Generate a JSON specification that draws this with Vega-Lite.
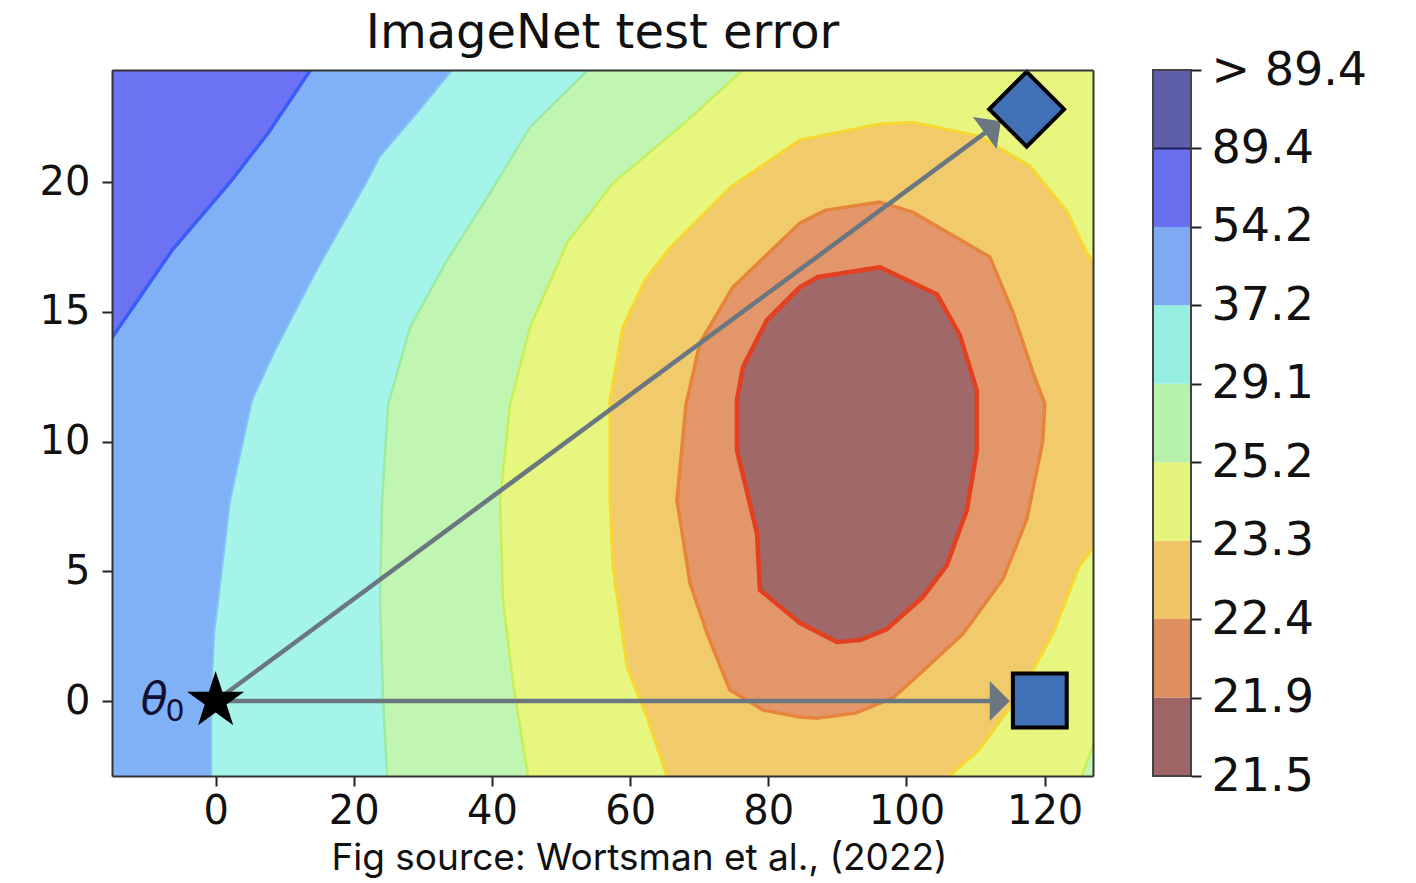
{
  "$schema": "https://vega.github.io/schema/vega-lite/v6.json",
  "background": "white",
  "padding": {"left": 39, "top": 9, "right": 5, "bottom": 3},
  "config": {"view": {"stroke": null}, "font": "DejaVu Sans"},
  "spacing": 59,
  "datasets": {
    "contours": [
      {"lvl": "L54", "i": 0, "x": 16.6, "y": 25.5},
      {"lvl": "L54", "i": 1, "x": 13.72, "y": 24.32},
      {"lvl": "L54", "i": 2, "x": 7.6, "y": 21.89},
      {"lvl": "L54", "i": 3, "x": 2.1, "y": 20.0},
      {"lvl": "L54", "i": 4, "x": -6.29, "y": 17.38},
      {"lvl": "L54", "i": 5, "x": -14.54, "y": 14.18},
      {"lvl": "L54", "i": 6, "x": -16.7, "y": 13.33},
      {"lvl": "L54", "i": 7, "x": -17, "y": 26},

      {"lvl": "L37", "i": 0, "x": 36.8, "y": 25.3},
      {"lvl": "L37", "i": 1, "x": 34.22, "y": 24.32},
      {"lvl": "L37", "i": 2, "x": 29.59, "y": 22.81},
      {"lvl": "L37", "i": 3, "x": 23.8, "y": 21.0},
      {"lvl": "L37", "i": 4, "x": 21.92, "y": 20.04},
      {"lvl": "L37", "i": 5, "x": 14.83, "y": 16.72},
      {"lvl": "L37", "i": 6, "x": 8.61, "y": 13.53},
      {"lvl": "L37", "i": 7, "x": 5.28, "y": 11.6},
      {"lvl": "L37", "i": 8, "x": 2.1, "y": 7.75},
      {"lvl": "L37", "i": 9, "x": 0.94, "y": 5.16},
      {"lvl": "L37", "i": 10, "x": -0.22, "y": 2.62},
      {"lvl": "L37", "i": 11, "x": -0.65, "y": 0},
      {"lvl": "L37", "i": 12, "x": -0.65, "y": -2.89},
      {"lvl": "L37", "i": 13, "x": -0.65, "y": -3.84},
      {"lvl": "L37", "i": 14, "x": 135, "y": -3.84},
      {"lvl": "L37", "i": 15, "x": 135, "y": 26},

      {"lvl": "L29", "i": 0, "x": 57.1, "y": 25.47},
      {"lvl": "L29", "i": 1, "x": 53.9, "y": 24.32},
      {"lvl": "L29", "i": 2, "x": 45.51, "y": 22.12},
      {"lvl": "L29", "i": 3, "x": 39.72, "y": 19.58},
      {"lvl": "L29", "i": 4, "x": 33.5, "y": 16.99},
      {"lvl": "L29", "i": 5, "x": 28.15, "y": 14.41},
      {"lvl": "L29", "i": 6, "x": 24.96, "y": 11.41},
      {"lvl": "L29", "i": 7, "x": 24.09, "y": 7.75},
      {"lvl": "L29", "i": 8, "x": 23.8, "y": 3.89},
      {"lvl": "L29", "i": 9, "x": 24.24, "y": 0.04},
      {"lvl": "L29", "i": 10, "x": 24.82, "y": -2.89},
      {"lvl": "L29", "i": 11, "x": 24.96, "y": -3.82},
      {"lvl": "L29", "i": 12, "x": 135, "y": -3.82},
      {"lvl": "L29", "i": 13, "x": 135, "y": 26},

      {"lvl": "L25", "i": 0, "x": 80.96, "y": 25.47},
      {"lvl": "L25", "i": 1, "x": 76.33, "y": 24.32},
      {"lvl": "L25", "i": 2, "x": 67.21, "y": 22.12},
      {"lvl": "L25", "i": 3, "x": 57.52, "y": 19.96},
      {"lvl": "L25", "i": 4, "x": 50.86, "y": 17.65},
      {"lvl": "L25", "i": 5, "x": 45.51, "y": 14.41},
      {"lvl": "L25", "i": 6, "x": 42.61, "y": 11.41},
      {"lvl": "L25", "i": 7, "x": 41.17, "y": 7.75},
      {"lvl": "L25", "i": 8, "x": 41.6, "y": 3.89},
      {"lvl": "L25", "i": 9, "x": 43.05, "y": 0.69},
      {"lvl": "L25", "i": 10, "x": 45.07, "y": -2.66},
      {"lvl": "L25", "i": 11, "x": 45.65, "y": -3.82},
      {"lvl": "L25", "i": 12, "x": 135, "y": -3.82},
      {"lvl": "L25", "i": 13, "x": 135, "y": 26},

      {"lvl": "LG", "i": 0, "x": 124.9, "y": -3.5},
      {"lvl": "LG", "i": 1, "x": 125.4, "y": -2.89},
      {"lvl": "LG", "i": 2, "x": 127, "y": -1.7},
      {"lvl": "LG", "i": 3, "x": 128, "y": -1.2},
      {"lvl": "LG", "i": 4, "x": 128, "y": -3.5},

      {"lvl": "L23", "i": 0, "x": 65.76, "y": -3.82},
      {"lvl": "L23", "i": 1, "x": 65.33, "y": -2.89},
      {"lvl": "L23", "i": 2, "x": 62.44, "y": -0.62},
      {"lvl": "L23", "i": 3, "x": 59.55, "y": 1.31},
      {"lvl": "L23", "i": 4, "x": 57.52, "y": 5.16},
      {"lvl": "L23", "i": 5, "x": 57.08, "y": 7.75},
      {"lvl": "L23", "i": 6, "x": 57.08, "y": 11.6},
      {"lvl": "L23", "i": 7, "x": 58.96, "y": 14.41},
      {"lvl": "L23", "i": 8, "x": 62.15, "y": 16.22},
      {"lvl": "L23", "i": 9, "x": 65.84, "y": 17.5},
      {"lvl": "L23", "i": 10, "x": 74.52, "y": 19.81},
      {"lvl": "L23", "i": 11, "x": 84.58, "y": 21.62},
      {"lvl": "L23", "i": 12, "x": 96.15, "y": 22.24},
      {"lvl": "L23", "i": 13, "x": 100.92, "y": 22.31},
      {"lvl": "L23", "i": 14, "x": 110.62, "y": 21.77},
      {"lvl": "L23", "i": 15, "x": 117.86, "y": 20.62},
      {"lvl": "L23", "i": 16, "x": 123.21, "y": 18.88},
      {"lvl": "L23", "i": 17, "x": 126.1, "y": 17.26},
      {"lvl": "L23", "i": 18, "x": 128, "y": 16.6},
      {"lvl": "L23", "i": 19, "x": 128, "y": 6.2},
      {"lvl": "L23", "i": 20, "x": 125.07, "y": 5.24},
      {"lvl": "L23", "i": 21, "x": 121.17, "y": 2.58},
      {"lvl": "L23", "i": 22, "x": 116.4, "y": 0.27},
      {"lvl": "L23", "i": 23, "x": 110.62, "y": -1.85},
      {"lvl": "L23", "i": 24, "x": 106.28, "y": -2.89},
      {"lvl": "L23", "i": 25, "x": 105.6, "y": -3.82},

      {"lvl": "L22", "i": 0, "x": 88.34, "y": 18.92},
      {"lvl": "L22", "i": 1, "x": 96.16, "y": 19.23},
      {"lvl": "L22", "i": 2, "x": 100.93, "y": 18.84},
      {"lvl": "L22", "i": 3, "x": 112.07, "y": 17.11},
      {"lvl": "L22", "i": 4, "x": 115.4, "y": 14.99},
      {"lvl": "L22", "i": 5, "x": 118.29, "y": 12.68},
      {"lvl": "L22", "i": 6, "x": 120.02, "y": 11.45},
      {"lvl": "L22", "i": 7, "x": 119.73, "y": 10.02},
      {"lvl": "L22", "i": 8, "x": 117.42, "y": 7.01},
      {"lvl": "L22", "i": 9, "x": 113.95, "y": 4.7},
      {"lvl": "L22", "i": 10, "x": 108.16, "y": 2.58},
      {"lvl": "L22", "i": 11, "x": 102.37, "y": 1.16},
      {"lvl": "L22", "i": 12, "x": 98.03, "y": 0.12},
      {"lvl": "L22", "i": 13, "x": 92.68, "y": -0.46},
      {"lvl": "L22", "i": 14, "x": 87.18, "y": -0.66},
      {"lvl": "L22", "i": 15, "x": 84.58, "y": -0.62},
      {"lvl": "L22", "i": 16, "x": 79.23, "y": -0.35},
      {"lvl": "L22", "i": 17, "x": 74.45, "y": 0.42},
      {"lvl": "L22", "i": 18, "x": 71.12, "y": 2.62},
      {"lvl": "L22", "i": 19, "x": 68.66, "y": 4.55},
      {"lvl": "L22", "i": 20, "x": 66.78, "y": 7.75},
      {"lvl": "L22", "i": 21, "x": 68.08, "y": 11.41},
      {"lvl": "L22", "i": 22, "x": 70.11, "y": 13.8},
      {"lvl": "L22", "i": 23, "x": 74.88, "y": 15.95},
      {"lvl": "L22", "i": 24, "x": 84.58, "y": 18.42},

      {"lvl": "L21", "i": 0, "x": 87.18, "y": 16.34},
      {"lvl": "L21", "i": 1, "x": 96.15, "y": 16.72},
      {"lvl": "L21", "i": 2, "x": 104.4, "y": 15.68},
      {"lvl": "L21", "i": 3, "x": 107.73, "y": 14.1},
      {"lvl": "L21", "i": 4, "x": 110.19, "y": 11.95},
      {"lvl": "L21", "i": 5, "x": 110.19, "y": 9.67},
      {"lvl": "L21", "i": 6, "x": 108.74, "y": 7.36},
      {"lvl": "L21", "i": 7, "x": 105.85, "y": 5.24},
      {"lvl": "L21", "i": 8, "x": 102.37, "y": 4.01},
      {"lvl": "L21", "i": 9, "x": 97.17, "y": 2.77},
      {"lvl": "L21", "i": 10, "x": 93.26, "y": 2.35},
      {"lvl": "L21", "i": 11, "x": 89.93, "y": 2.27},
      {"lvl": "L21", "i": 12, "x": 84.58, "y": 3.01},
      {"lvl": "L21", "i": 13, "x": 78.79, "y": 4.28},
      {"lvl": "L21", "i": 14, "x": 78.36, "y": 6.47},
      {"lvl": "L21", "i": 15, "x": 75.46, "y": 9.67},
      {"lvl": "L21", "i": 16, "x": 75.46, "y": 11.6},
      {"lvl": "L21", "i": 17, "x": 76.33, "y": 12.87},
      {"lvl": "L21", "i": 18, "x": 79.79, "y": 14.68},
      {"lvl": "L21", "i": 19, "x": 84.58, "y": 15.95}
    ],
    "arrows": [
      {"arrow": "diag", "i": 0, "x": 0, "y": 0},
      {"arrow": "diag", "i": 1, "x": 112.5, "y": 22.12},
      {"arrow": "horiz", "i": 0, "x": 0, "y": 0},
      {"arrow": "horiz", "i": 1, "x": 113.5, "y": 0}
    ],
    "markers": [
      {"kind": "start", "label": "θ", "sub": "0", "x": 0, "y": 0},
      {"kind": "diamond", "label": "", "sub": "", "x": 117.4, "y": 22.81},
      {"kind": "square", "label": "", "sub": "", "x": 119.3, "y": 0.02},
      {"kind": "headDiag", "label": "", "sub": "", "x": 112.5, "y": 22.12},
      {"kind": "headHoriz", "label": "", "sub": "", "x": 113.5, "y": 0}
    ],
    "cbar": [
      {"band": "b0", "lo": 0, "hi": 1},
      {"band": "b1", "lo": 1, "hi": 2},
      {"band": "b2", "lo": 2, "hi": 3},
      {"band": "b3", "lo": 3, "hi": 4},
      {"band": "b4", "lo": 4, "hi": 5},
      {"band": "b5", "lo": 5, "hi": 6},
      {"band": "b6", "lo": 6, "hi": 7},
      {"band": "b7", "lo": 7, "hi": 8},
      {"band": "b8", "lo": 8, "hi": 9}
    ]
  },
  "hconcat": [
    {
      "width": 981,
      "height": 706,
      "title": {"text": "ImageNet test error", "font": "DejaVu Sans", "fontSize": 48, "fontWeight": "normal", "color": "#111111", "anchor": "middle", "offset": 6},
      "view": {"fill": "#80b0f5", "stroke": null},
      "resolve": {"axis": {"x": "independent", "y": "independent"}},
      "data": {"name": "contours"},
      "layer": [
        {
          "transform": [{"filter": "datum.lvl === 'L54'"}],
          "mark": {"type": "line", "fill": "#6b72f3", "stroke": "#3c5cf8", "strokeWidth": 3.5, "interpolate": "linear-closed", "clip": true, "strokeJoin": "round"},
          "encoding": {
            "x": {"field": "x", "type": "quantitative", "scale": {"domain": [-15, 127], "nice": false, "zero": false},
              "axis": {"orient": "bottom", "values": [0, 20, 40, 60, 80, 100, 120], "grid": false, "zindex": 1,
                "domainColor": "#333333", "domainWidth": 2, "tickColor": "#222222", "tickWidth": 2, "tickSize": 10,
                "labelFont": "DejaVu Sans", "labelFontSize": 40, "labelColor": "#111111", "labelPadding": 5, "labelFlush": false,
                "title": "Fig source: Wortsman et al., (2022)", "titleFont": "Inter", "titleFontSize": 37, "titleFontWeight": "normal",
                "titleColor": "#111111", "titlePadding": 9, "titleX": 527, "titleAlign": "center"}},
            "y": {"field": "y", "type": "quantitative", "scale": {"domain": [-2.89, 24.32], "nice": false, "zero": false},
              "axis": {"orient": "left", "values": [0, 5, 10, 15, 20], "grid": false, "zindex": 1,
                "domainColor": "#333333", "domainWidth": 2, "tickColor": "#222222", "tickWidth": 2, "tickSize": 10,
                "labelFont": "DejaVu Sans", "labelFontSize": 40, "labelColor": "#111111", "labelPadding": 12, "title": null}},
            "order": {"field": "i", "type": "quantitative"}
          }
        },
        {
          "transform": [{"filter": "datum.lvl === 'L37'"}],
          "mark": {"type": "line", "fill": "#a5f4ea", "stroke": "#86c2f4", "strokeWidth": 2, "interpolate": "linear-closed", "clip": true, "strokeJoin": "round"},
          "encoding": {
            "x": {"field": "x", "type": "quantitative", "scale": {"domain": [-15, 127], "nice": false, "zero": false},
              "axis": {"orient": "top", "labels": false, "ticks": false, "domain": true, "domainColor": "#333333", "domainWidth": 2, "grid": false, "title": null, "zindex": 1}},
            "y": {"field": "y", "type": "quantitative", "scale": {"domain": [-2.89, 24.32], "nice": false, "zero": false},
              "axis": {"orient": "right", "labels": false, "ticks": false, "domain": true, "domainColor": "#333333", "domainWidth": 2, "grid": false, "title": null, "zindex": 1}},
            "order": {"field": "i", "type": "quantitative"}
          }
        },
        {
          "transform": [{"filter": "datum.lvl === 'L29'"}],
          "mark": {"type": "line", "fill": "#c0f5b2", "stroke": "#9eeaa4", "strokeWidth": 2.5, "interpolate": "linear-closed", "clip": true, "strokeJoin": "round"},
          "encoding": {
            "x": {"field": "x", "type": "quantitative", "scale": {"domain": [-15, 127], "nice": false, "zero": false}, "axis": null},
            "y": {"field": "y", "type": "quantitative", "scale": {"domain": [-2.89, 24.32], "nice": false, "zero": false}, "axis": null},
            "order": {"field": "i", "type": "quantitative"}
          }
        },
        {
          "transform": [{"filter": "datum.lvl === 'L25'"}],
          "mark": {"type": "line", "fill": "#e6f67e", "stroke": "#c6f05a", "strokeWidth": 2.5, "interpolate": "linear-closed", "clip": true, "strokeJoin": "round"},
          "encoding": {
            "x": {"field": "x", "type": "quantitative", "scale": {"domain": [-15, 127], "nice": false, "zero": false}, "axis": null},
            "y": {"field": "y", "type": "quantitative", "scale": {"domain": [-2.89, 24.32], "nice": false, "zero": false}, "axis": null},
            "order": {"field": "i", "type": "quantitative"}
          }
        },
        {
          "transform": [{"filter": "datum.lvl === 'LG'"}],
          "mark": {"type": "line", "fill": "#c0f5b2", "stroke": "#c6f05a", "strokeWidth": 2.5, "interpolate": "linear-closed", "clip": true, "strokeJoin": "round"},
          "encoding": {
            "x": {"field": "x", "type": "quantitative", "scale": {"domain": [-15, 127], "nice": false, "zero": false}, "axis": null},
            "y": {"field": "y", "type": "quantitative", "scale": {"domain": [-2.89, 24.32], "nice": false, "zero": false}, "axis": null},
            "order": {"field": "i", "type": "quantitative"}
          }
        },
        {
          "transform": [{"filter": "datum.lvl === 'L23'"}],
          "mark": {"type": "line", "fill": "#f1ca6c", "stroke": "#f8d830", "strokeWidth": 3, "interpolate": "linear-closed", "clip": true, "strokeJoin": "round"},
          "encoding": {
            "x": {"field": "x", "type": "quantitative", "scale": {"domain": [-15, 127], "nice": false, "zero": false}, "axis": null},
            "y": {"field": "y", "type": "quantitative", "scale": {"domain": [-2.89, 24.32], "nice": false, "zero": false}, "axis": null},
            "order": {"field": "i", "type": "quantitative"}
          }
        },
        {
          "transform": [{"filter": "datum.lvl === 'L22'"}],
          "mark": {"type": "line", "fill": "#e3966a", "stroke": "#e5843a", "strokeWidth": 3.5, "interpolate": "linear-closed", "clip": true, "strokeJoin": "round"},
          "encoding": {
            "x": {"field": "x", "type": "quantitative", "scale": {"domain": [-15, 127], "nice": false, "zero": false}, "axis": null},
            "y": {"field": "y", "type": "quantitative", "scale": {"domain": [-2.89, 24.32], "nice": false, "zero": false}, "axis": null},
            "order": {"field": "i", "type": "quantitative"}
          }
        },
        {
          "transform": [{"filter": "datum.lvl === 'L21'"}],
          "mark": {"type": "line", "fill": "#a06868", "stroke": "#e2401f", "strokeWidth": 4.5, "interpolate": "linear-closed", "clip": true, "strokeJoin": "round"},
          "encoding": {
            "x": {"field": "x", "type": "quantitative", "scale": {"domain": [-15, 127], "nice": false, "zero": false}, "axis": null},
            "y": {"field": "y", "type": "quantitative", "scale": {"domain": [-2.89, 24.32], "nice": false, "zero": false}, "axis": null},
            "order": {"field": "i", "type": "quantitative"}
          }
        },
        {
          "data": {"name": "arrows"},
          "mark": {"type": "line", "stroke": "#6b7780", "strokeWidth": 4.5, "clip": true},
          "encoding": {
            "x": {"field": "x", "type": "quantitative", "scale": {"domain": [-15, 127], "nice": false, "zero": false}, "axis": null},
            "y": {"field": "y", "type": "quantitative", "scale": {"domain": [-2.89, 24.32], "nice": false, "zero": false}, "axis": null},
            "detail": {"field": "arrow", "type": "nominal"},
            "order": {"field": "i", "type": "quantitative"}
          }
        },
        {
          "data": {"name": "markers"},
          "transform": [{"filter": "datum.kind === 'headHoriz'"}],
          "mark": {"type": "point", "shape": "M-0.5,-1L0.5,0L-0.5,1Z", "size": 1600, "filled": true, "fill": "#6b7780", "opacity": 1, "strokeWidth": 0},
          "encoding": {
            "x": {"field": "x", "type": "quantitative", "scale": {"domain": [-15, 127], "nice": false, "zero": false}, "axis": null},
            "y": {"field": "y", "type": "quantitative", "scale": {"domain": [-2.89, 24.32], "nice": false, "zero": false}, "axis": null}
          }
        },
        {
          "data": {"name": "markers"},
          "transform": [{"filter": "datum.kind === 'headDiag'"}],
          "mark": {"type": "point", "shape": "M-0.5,-1L0.5,0L-0.5,1Z", "size": 1600, "angle": 323.6, "filled": true, "fill": "#6b7780", "opacity": 1, "strokeWidth": 0},
          "encoding": {
            "x": {"field": "x", "type": "quantitative", "scale": {"domain": [-15, 127], "nice": false, "zero": false}, "axis": null},
            "y": {"field": "y", "type": "quantitative", "scale": {"domain": [-2.89, 24.32], "nice": false, "zero": false}, "axis": null}
          }
        },
        {
          "data": {"name": "markers"},
          "transform": [{"filter": "datum.kind === 'start'"}],
          "mark": {"type": "point", "shape": "M0,-1L0.2245,-0.309L0.9511,-0.309L0.3633,0.118L0.5878,0.809L0,0.382L-0.5878,0.809L-0.3633,0.118L-0.9511,-0.309L-0.2245,-0.309Z", "size": 3600, "filled": true, "fill": "#000000", "opacity": 1, "strokeWidth": 0},
          "encoding": {
            "x": {"field": "x", "type": "quantitative", "scale": {"domain": [-15, 127], "nice": false, "zero": false}, "axis": null},
            "y": {"field": "y", "type": "quantitative", "scale": {"domain": [-2.89, 24.32], "nice": false, "zero": false}, "axis": null}
          }
        },
        {
          "data": {"name": "markers"},
          "transform": [{"filter": "datum.kind === 'diamond'"}],
          "mark": {"type": "point", "shape": "diamond", "size": 5600, "filled": true, "fill": "#4070b6", "stroke": "#000000", "strokeWidth": 4, "opacity": 1},
          "encoding": {
            "x": {"field": "x", "type": "quantitative", "scale": {"domain": [-15, 127], "nice": false, "zero": false}, "axis": null},
            "y": {"field": "y", "type": "quantitative", "scale": {"domain": [-2.89, 24.32], "nice": false, "zero": false}, "axis": null}
          }
        },
        {
          "data": {"name": "markers"},
          "transform": [{"filter": "datum.kind === 'square'"}],
          "mark": {"type": "point", "shape": "square", "size": 2900, "filled": true, "fill": "#4070b6", "stroke": "#000000", "strokeWidth": 4, "opacity": 1},
          "encoding": {
            "x": {"field": "x", "type": "quantitative", "scale": {"domain": [-15, 127], "nice": false, "zero": false}, "axis": null},
            "y": {"field": "y", "type": "quantitative", "scale": {"domain": [-2.89, 24.32], "nice": false, "zero": false}, "axis": null}
          }
        },
        {
          "data": {"name": "markers"},
          "transform": [{"filter": "datum.kind === 'start'"}],
          "mark": {"type": "text", "font": "DejaVu Sans", "fontStyle": "oblique", "fontSize": 44, "color": "#111133", "align": "right", "baseline": "middle", "dx": -48, "dy": 0},
          "encoding": {
            "x": {"field": "x", "type": "quantitative", "scale": {"domain": [-15, 127], "nice": false, "zero": false}, "axis": null},
            "y": {"field": "y", "type": "quantitative", "scale": {"domain": [-2.89, 24.32], "nice": false, "zero": false}, "axis": null},
            "text": {"field": "label", "type": "nominal"}
          }
        },
        {
          "data": {"name": "markers"},
          "transform": [{"filter": "datum.kind === 'start'"}],
          "mark": {"type": "text", "font": "DejaVu Sans", "fontSize": 30, "color": "#111133", "align": "right", "baseline": "middle", "dx": -31, "dy": 11},
          "encoding": {
            "x": {"field": "x", "type": "quantitative", "scale": {"domain": [-15, 127], "nice": false, "zero": false}, "axis": null},
            "y": {"field": "y", "type": "quantitative", "scale": {"domain": [-2.89, 24.32], "nice": false, "zero": false}, "axis": null},
            "text": {"field": "sub", "type": "nominal"}
          }
        }
      ]
    },
    {
      "width": 38,
      "height": 706,
      "data": {"name": "cbar"},
      "layer": [
        {
          "mark": {"type": "rect"},
          "encoding": {
            "y": {"field": "lo", "type": "quantitative", "scale": {"domain": [0, 9], "nice": false, "zero": false},
              "axis": {"orient": "right", "values": [0, 1, 2, 3, 4, 5, 6, 7, 8, 9],
                "labelExpr": "['21.5','21.9','22.4','23.3','25.2','29.1','37.2','54.2','89.4','> 89.4'][datum.value]",
                "grid": false, "domain": false, "ticks": true, "tickColor": "#222222", "tickWidth": 2, "tickSize": 10,
                "labelFont": "DejaVu Sans", "labelFontSize": 46, "labelColor": "#111111", "labelPadding": 10,
                "labelFlush": false, "labelOverlap": false, "labelBaseline": "middle", "title": null, "zindex": 1}},
            "y2": {"field": "hi"},
            "color": {"field": "band", "type": "nominal", "legend": null,
              "scale": {"domain": ["b0", "b1", "b2", "b3", "b4", "b5", "b6", "b7", "b8"],
                "range": ["#9e6566", "#e08f60", "#f0c568", "#e4f47c", "#b6f2ac", "#97efe2", "#7daaf2", "#6a6ef0", "#5d60a8"]}}
          }
        },
        {
          "data": {"values": [{"v": 8}]},
          "mark": {"type": "rule", "color": "#20205a", "strokeWidth": 2},
          "encoding": {
            "y": {"field": "v", "type": "quantitative"}
          }
        },
        {
          "data": {"values": [{"lo": 0, "hi": 9}]},
          "mark": {"type": "rect", "filled": false, "stroke": "#444444", "strokeWidth": 2},
          "encoding": {
            "y": {"field": "lo", "type": "quantitative"},
            "y2": {"field": "hi"}
          }
        }
      ]
    }
  ]
}
